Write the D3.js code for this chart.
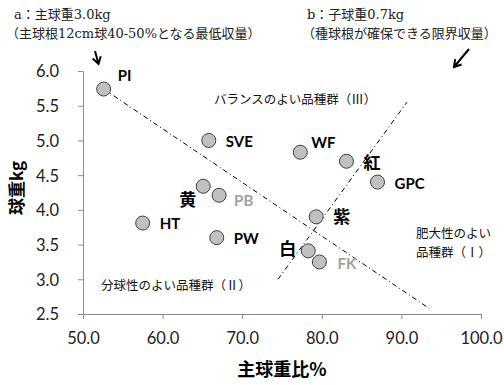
<!DOCTYPE html>
<html lang="ja">
<head>
<meta charset="utf-8">
<script src="https://d3js.org/d3.v7.min.js"></script>
<style>
  body { margin: 0; background: #fff; }
  svg { display: block; }
  .tick text { font-family: Lato, "Noto Sans", sans-serif; font-size: 16.5px; fill: #222; }
  .jp { font-family: "Noto Sans CJK JP", sans-serif; }
</style>
</head>
<body>
<script>
// 品種ごとの主球重比(%)と球重(kg)
var varieties = ["PI", "SVE", "WF", "紅", "GPC", "黄", "PB", "HT", "PW", "紫", "白", "FK"];
var mainRatio = [52.6, 65.8, 77.3, 83.1, 87.0, 65.1, 67.1, 57.5, 66.8, 79.3, 78.3, 79.7];
var bulbWeight = [5.74, 5.0, 4.83, 4.70, 4.40, 4.34, 4.21, 3.81, 3.60, 3.90, 3.41, 3.25];
var grayLabels = ["PB", "FK"];

// 境界線 a, b
var lineA = [[52.6, 5.74], [93.5, 2.58]];
var lineB = [[74.5, 3.0], [90.7, 5.55]];

var xTicks = [50, 60, 70, 80, 90, 100];
var yTicks = [2.5, 3.0, 3.5, 4.0, 4.5, 5.0, 5.5, 6.0];

var width = 504, height = 385;
var margin = { left: 83, right: 23, top: 71, bottom: 71 };

var svg = d3.select("body").append("svg")
    .attr("width", width)
    .attr("height", height);

var x = d3.scaleLinear().domain([50, 100]).range([margin.left, width - margin.right]);
var y = d3.scaleLinear().domain([2.5, 6.0]).range([height - margin.bottom, margin.top]);

var xAxis = svg.append("g")
    .attr("transform", "translate(0," + y(2.5) + ")")
    .call(d3.axisBottom(x).tickValues(xTicks).tickFormat(d3.format(".1f")).tickSize(5).tickPadding(13));
var yAxis = svg.append("g")
    .attr("transform", "translate(" + x(50) + ",0)")
    .call(d3.axisLeft(y).tickValues(yTicks).tickFormat(d3.format(".1f")).tickSize(5).tickPadding(19));
svg.selectAll(".domain, .tick line").attr("stroke", "#8c8c8c");
yAxis.selectAll(".tick text").attr("dy", "0.36em");

// 軸タイトル
svg.append("text").attr("class", "jp")
    .attr("x", 282).attr("y", 376)
    .attr("text-anchor", "middle")
    .style("font-size", "18px").style("font-weight", "bold")
    .text("主球重比%");
svg.append("text").attr("class", "jp")
    .attr("transform", "translate(23,188) rotate(-90)")
    .attr("text-anchor", "middle")
    .style("font-size", "17px").style("font-weight", "bold")
    .text("球重kg");

// 境界線
var line = d3.line().x(function (d) { return x(d[0]); }).y(function (d) { return y(d[1]); });
[lineA, lineB].forEach(function (l) {
    svg.append("path")
        .attr("d", line(l))
        .attr("fill", "none")
        .attr("stroke", "#000")
        .attr("stroke-width", 1)
        .attr("stroke-dasharray", "5,3,1,3");
});

// 点
var pts = varieties.map(function (v, i) { return { name: v, x: mainRatio[i], y: bulbWeight[i] }; });
svg.selectAll("circle")
    .data(pts)
    .enter()
    .append("circle")
    .attr("cx", function (d) { return x(d.x); })
    .attr("cy", function (d) { return y(d.y); })
    .attr("r", 7)
    .attr("fill", "#c0c0c0")
    .attr("stroke", "#404040")
    .attr("stroke-width", 1);

// ラベルの位置
var offsets = {
    "PI": [14, -13, "start"], "SVE": [17, 1, "start"], "WF": [11, -10, "start"],
    "紅": [17, 2, "start"], "GPC": [17, 2, "start"], "黄": [-7, 14, "end"],
    "PB": [15, 5, "start"], "HT": [17, 1, "start"], "PW": [17, 1, "start"],
    "紫": [17, 0, "start"], "白": [-12, -2, "end"], "FK": [18, 2, "start"]
};
svg.selectAll("text.lab")
    .data(pts)
    .enter()
    .append("text")
    .attr("class", "lab")
    .attr("x", function (d) { return x(d.x) + offsets[d.name][0]; })
    .attr("y", function (d) { return y(d.y) + offsets[d.name][1]; })
    .attr("dy", "0.36em")
    .attr("text-anchor", function (d) { return offsets[d.name][2]; })
    .style("font-family", function (d) { return /^[A-Z]+$/.test(d.name) ? "Lato, 'Noto Sans', sans-serif" : "'Noto Sans CJK JP', sans-serif"; })
    .style("font-size", function (d) { return /^[A-Z]+$/.test(d.name) ? "15px" : "17px"; })
    .style("font-weight", "bold")
    .attr("fill", function (d) { return grayLabels.indexOf(d.name) >= 0 ? "#a0a0a0" : "#000"; })
    .text(function (d) { return d.name; });

// 品種群の注記
function note(t, px, py, anchor) {
    svg.append("text").attr("class", "jp")
        .attr("x", px).attr("y", py)
        .attr("text-anchor", anchor || "start")
        .style("font-size", "12.5px")
        .attr("fill", "#111")
        .text(t);
}
note("バランスのよい品種群（Ⅲ）", 214, 104);
note("分球性のよい品種群（Ⅱ）", 101, 290);
note("肥大性のよい", 491, 238, "end");
note("品種群（Ⅰ）", 491, 257, "end");

// 上部の説明
function topNote(t, px, py) {
    svg.append("text")
        .attr("x", px).attr("y", py)
        .style("font-family", "'DejaVu Serif', 'Noto Sans CJK JP', serif")
        .style("font-size", "13px")
        .attr("fill", "#222")
        .text(t);
}
topNote("a：主球重3.0kg", 14, 19);
topNote("（主球根12cm球40-50%となる最低収量）", 6, 38);
topNote("b：子球重0.7kg", 307, 19);
topNote("（種球根が確保できる限界収量）", 302, 38);

// 矢印
function arrow(x1, y1, x2, y2) {
    var a = Math.atan2(y2 - y1, x2 - x1), h = 8, s = 0.55;
    svg.append("path")
        .attr("d", "M" + x1 + "," + y1 + "L" + x2 + "," + y2 +
            "M" + (x2 - h * Math.cos(a - s)) + "," + (y2 - h * Math.sin(a - s)) +
            "L" + x2 + "," + y2 +
            "L" + (x2 - h * Math.cos(a + s)) + "," + (y2 - h * Math.sin(a + s)))
        .attr("fill", "none")
        .attr("stroke", "#000")
        .attr("stroke-width", 2);
}
arrow(95, 51, 98.5, 64);
arrow(469, 49, 454, 67);
</script>
</body>
</html>
